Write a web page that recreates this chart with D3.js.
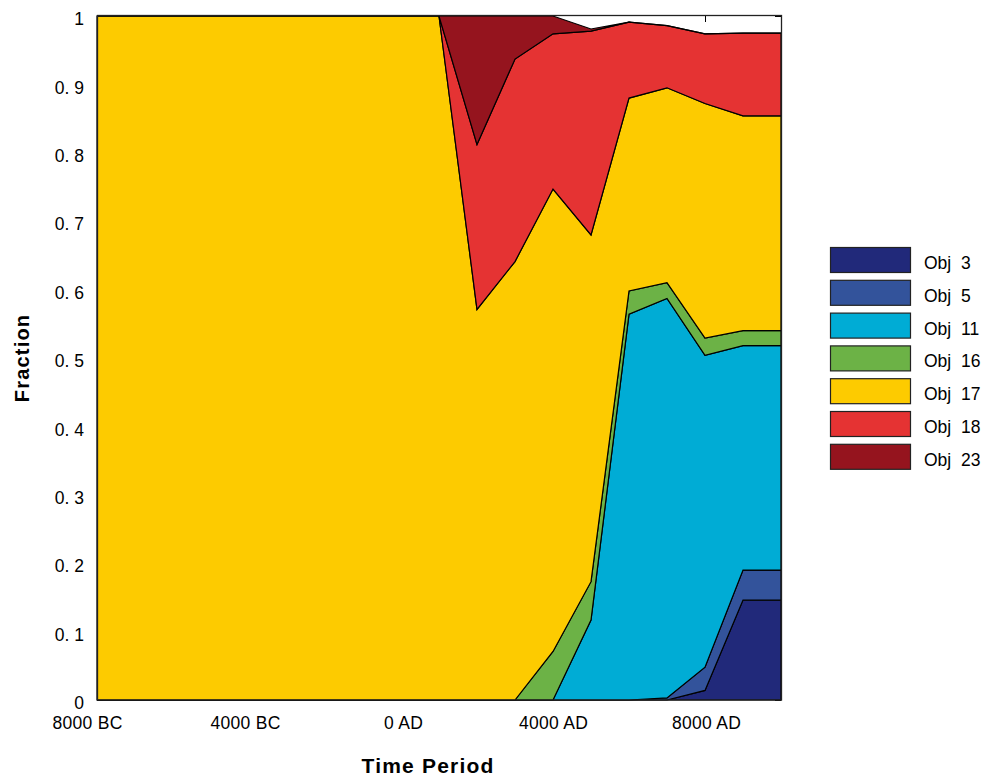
<!DOCTYPE html>
<html>
<head>
<meta charset="utf-8">
<script src="https://cdn.jsdelivr.net/npm/d3@7"></script>
<style>
  html, body { margin: 0; padding: 0; background: #fff; }
  svg { display: block; }
  text { font-family: "Liberation Sans", Arial, sans-serif; fill: #000; }
</style>
</head>
<body>
<svg id="chart" width="989" height="776"></svg>
<script>
// ---------------- data ----------------
const years = [-8000,-7000,-6000,-5000,-4000,-3000,-2000,-1000,0,1000,2000,3000,4000,5000,6000,7000,8000,9000,10000];
const seriesNames = ["Obj 3","Obj 5","Obj 11","Obj 16","Obj 17","Obj 18","Obj 23"];
const obj3  = [0,0,0,0,0,0,0,0,0,0,0,0,0,0,0,0,0.014,0.146,0.146];
const obj5  = [0,0,0,0,0,0,0,0,0,0,0,0,0,0,0,0.003,0.034,0.044,0.044];
const obj11 = [0,0,0,0,0,0,0,0,0,0,0,0,0,0.117,0.564,0.584,0.456,0.328,0.328];
const obj16 = [0,0,0,0,0,0,0,0,0,0,0,0,0.071,0.056,0.034,0.023,0.025,0.022,0.022];
const obj17 = [1,1,1,1,1,1,1,1,1,1,0.571,0.641,0.676,0.507,0.282,0.285,0.343,0.314,0.314];
const obj18 = [0,0,0,0,0,0,0,0,0,0,0.241,0.296,0.227,0.298,0.111,0.091,0.102,0.121,0.121];
const obj23 = [0,0,0,0,0,0,0,0,0,0,0.188,0.063,0.026,0.003,0,0,0,0,0];
const seriesColors = ["#21297a","#33539b","#00acd5","#6cb246","#fdcb00","#e53333","#95141e"];
const xTicks = [-8000,-4000,0,4000,8000];
const xTickLabels = ["8000 BC","4000 BC","0 AD","4000 AD","8000 AD"];
const yTicks = [0,0.1,0.2,0.3,0.4,0.5,0.6,0.7,0.8,0.9,1];
const yTickLabels = ["0","0. 1","0. 2","0. 3","0. 4","0. 5","0. 6","0. 7","0. 8","0. 9","1"];

// ---------------- layout ----------------
const svg = d3.select("#chart");
const L = 97, R = 781, T = 16, B = 700;
const x = d3.scaleLinear().domain([-8000, 10000]).range([L, R]);
const y = d3.scaleLinear().domain([0, 1]).range([B, T]);

const allSeries = [obj3, obj5, obj11, obj16, obj17, obj18, obj23];
const table = years.map((yr, i) => {
  const row = { year: yr };
  seriesNames.forEach((n, k) => row[n] = allSeries[k][i]);
  return row;
});
const stacked = d3.stack().keys(seriesNames)(table);

// inner ticks (drawn below the areas, like the reference)
const tickG = svg.append("g").attr("stroke", "#000").attr("stroke-width", 1);
xTicks.forEach(v => {
  const px = Math.round(x(v)) + 0.5;
  tickG.append("line").attr("x1", px).attr("x2", px).attr("y1", B).attr("y2", B - 6);
  tickG.append("line").attr("x1", px).attr("x2", px).attr("y1", T).attr("y2", T + 6);
});
yTicks.forEach(v => {
  const py = Math.round(y(v)) + 0.5;
  tickG.append("line").attr("x1", L).attr("x2", L + 6).attr("y1", py).attr("y2", py);
  tickG.append("line").attr("x1", R).attr("x2", R - 6).attr("y1", py).attr("y2", py);
});

// areas
const area = d3.area()
  .x(d => x(d.data.year))
  .y0(d => y(d[0]))
  .y1(d => y(d[1]))
  .curve(d3.curveLinear);

svg.append("g").selectAll("path")
  .data(stacked)
  .join("path")
  .attr("d", area)
  .attr("fill", (d, i) => seriesColors[i])
  .attr("stroke", "#000")
  .attr("stroke-width", 1.2)
  .attr("stroke-linejoin", "miter");

// frame
svg.append("rect")
  .attr("x", L + 0.5).attr("y", T - 0.5)
  .attr("width", R - L).attr("height", B - T + 0.5)
  .attr("fill", "none").attr("stroke", "#222").attr("stroke-width", 1.3);

// y tick labels
const yAxis = d3.axisLeft(y).tickValues(yTicks).tickSize(0).tickPadding(13)
  .tickFormat((d, i) => yTickLabels[i]);
const yg = svg.append("g").attr("transform", `translate(${L},0)`).call(yAxis);
yg.select(".domain").remove();
yg.selectAll("text")
  .style("font-family", '"Liberation Sans", Arial, sans-serif')
  .style("font-size", "17.5px")
  .attr("dy", "0.5em");

// x tick labels
const xNudge = [-10, -4, 2, 0, 1];
const xAxis = d3.axisBottom(x).tickValues(xTicks).tickSize(0).tickPadding(17)
  .tickFormat((d, i) => xTickLabels[i]);
const xg = svg.append("g").attr("transform", `translate(0,${B})`).call(xAxis);
xg.select(".domain").remove();
xg.selectAll("text")
  .style("font-family", '"Liberation Sans", Arial, sans-serif')
  .style("font-size", "17.5px")
  .style("letter-spacing", "0.3px")
  .attr("dx", (d, i) => xNudge[i]);

// axis titles
svg.append("text")
  .attr("x", 428).attr("y", 773)
  .attr("text-anchor", "middle")
  .style("font-size", "21px").style("font-weight", "bold").style("letter-spacing", "1.2px")
  .text("Time Period");

svg.append("text")
  .attr("transform", "translate(29,358) rotate(-90)")
  .attr("text-anchor", "middle")
  .style("font-size", "20px").style("font-weight", "bold").style("letter-spacing", "1.2px")
  .text("Fraction");

// legend
const lg = svg.append("g");
seriesNames.forEach((n, i) => {
  const by = 247 + i * 32.8;
  lg.append("rect")
    .attr("x", 830.5).attr("y", by + 0.5).attr("width", 80).attr("height", 25)
    .attr("fill", seriesColors[i]).attr("stroke", "#222").attr("stroke-width", 1.2);
  lg.append("text")
    .attr("x", 924).attr("y", by + 22)
    .style("font-size", "17.5px").style("word-spacing", "5px")
    .text(n);
});
</script>
</body>
</html>
